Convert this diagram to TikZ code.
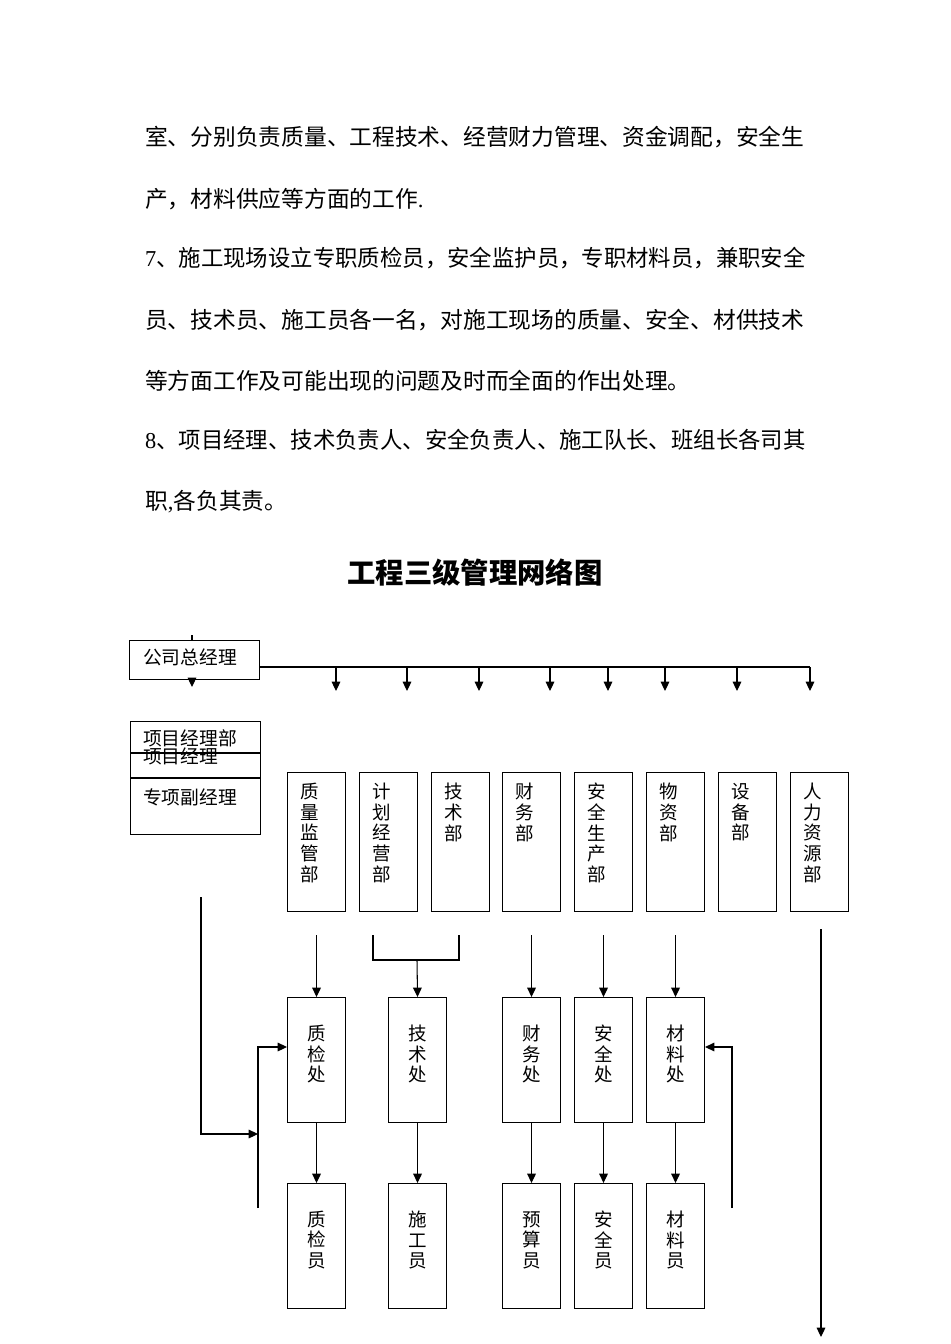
\documentclass[tikz,border=0pt]{standalone}
\usepackage{fontspec}
\usepackage{graphicx}
\setmainfont{Liberation Serif}
\newfontfamily\cjk{Noto Sans CJK SC}
\usetikzlibrary{arrows.meta,positioning}

\tikzset{
	line/.style={line width=0.9pt},
	arr/.style={line,-{Triangle[length=0.28cm,width=0.26cm]}},
	box/.style={draw,line,inner sep=0pt,anchor=north west},
	col/.style={box,minimum width=1.74cm,minimum height=4.17cm},
	sub/.style={box,minimum width=1.74cm,minimum height=3.75cm},
	body/.style={inner sep=0pt,anchor=west,font=\cjk\fontsize{19.4pt}{19.4pt}\selectfont},
	lbl/.style={inner sep=0pt,anchor=west,font=\cjk\fontsize{16pt}{16pt}\selectfont},
	vlbl/.style={inner sep=0pt,align=center,font=\cjk\fontsize{15.8pt}{17.6pt}\selectfont}
}

\begin{document}
\begin{tikzpicture}[x=0.03cm,y=-0.03cm]
	\useasboundingbox (0,0) rectangle (950,1344);
	% text above the chart
	\node[body] (p1) at (145,137) {室、分别负责质量、工程技术、经营财力管理、资金调配，安全生};
	\node[body] (p2) at (145,199) {产，材料供应等方面的工作\textrm{.}};
	\node[body] (p3) at (145,258) {\scalebox{0.985}[1]{\textrm{7}、施工现场设立专职质检员，安全监护员，专职材料员，兼职安全}};
	\node[body] (p4) at (145,320) {员、技术员、施工员各一名，对施工现场的质量、安全、材供技术};
	\node[body] (p5) at (145,381) {等方面工作及可能出现的问题及时而全面的作出处理。};
	\node[body] (p6) at (145,440) {\scalebox{0.985}[1]{\textrm{8}、项目经理、技术负责人、安全负责人、施工队长、班组长各司其}};
	\node[body] (p7) at (145,502) {职\textrm{,}各负其责。};
	\node[inner sep=0pt,font=\cjk\bfseries\fontsize{24.2pt}{24.2pt}\selectfont] (title) at (475,573) {工程三级管理网络图};

	% company and project managers
	\node[box,minimum width=3.9cm,minimum height=1.17cm] (gm) at (129,640) {};
	\node[lbl] (gm-t) at (143,657) {公司总经理};
	\node[box,minimum width=3.9cm,minimum height=3.39cm] (pm) at (130,721) {};
	\draw[line] ([yshift=-0.96cm]pm.north west) -- ([yshift=-0.96cm]pm.north east);
	\draw[line] ([yshift=-1.71cm]pm.north west) -- ([yshift=-1.71cm]pm.north east);
	\node[lbl] (pm-t1) at (143,738) {项目经理部};
	\node[lbl] (pm-t2) at (143,756) {项目经理};
	\node[lbl] (pm-t3) at (143,797) {专项副经理};

	% departments
	\foreach \n/\x/\t in {zlb/287/{质\\量\\监\\管\\部},jhb/359/{计\\划\\经\\营\\部},jsb/431/{技\\术\\部},cwb/502/{财\\务\\部},aqb/574/{安\\全\\生\\产\\部},wzb/646/{物\\资\\部},sbb/718/{设\\备\\部},rlb/790/{人\\力\\资\\源\\部}}{
		\node[col] (\n) at (\x,772) {};
		\node[vlbl,anchor=north] (\n-t) at ([xshift=-0.21cm,yshift=-0.33cm]\n.north) {\t};
	}

	% offices and staff
	\foreach \n/\x/\t in {zjc/287/{质\\检\\处},jsc/388/{技\\术\\处},cwc/502/{财\\务\\处},aqc/574/{安\\全\\处},clc/646/{材\\料\\处}}{
		\node[sub] (\n) at (\x,997) {};
		\node[vlbl] (\n-t) at ([yshift=0.18cm]\n.center) {\t};
	}
	\foreach \n/\x/\t in {zjy/287/{质\\检\\员},sgy/388/{施\\工\\员},ysy/502/{预\\算\\员},aqy/574/{安\\全\\员},cly/646/{材\\料\\员}}{
		\node[sub] (\n) at (\x,1183) {};
		\node[vlbl] (\n-t) at ([yshift=0.18cm]\n.center) {\t};
	}

	% connectors
	\coordinate (bus) at (810,667);
	\draw[line] (192,635) -- (192,640);
	\draw[arr] (192,678) -- (192,687);
	\draw[line] (gm.east |- bus) -- (bus);
	\foreach \x in {336,407,479,550,608,665,737,810}
		\draw[arr] (\x,667) -- (\x,691);

	\foreach \n in {zjc,cwc,aqc,clc}
		\draw[arr] ([yshift=1.86cm]\n.north) -- (\n.north);
	\coordinate (br) at (417,960);
	\draw[line] (373,935) -- (373,960) -- (459,960) -- (459,935);
	\draw[arr] (br) -- (jsc.north);

	\foreach \a/\b in {zjc/zjy,jsc/sgy,cwc/ysy,aqc/aqy,clc/cly}
		\draw[arr] (\a) -- (\b);

	\coordinate (fb) at (201,897);
	\coordinate (qlin) at (258,1047);
	\coordinate (mlin) at (732,1047);
	\draw[arr] (fb) -- (201,1134) -- (258,1134);
	\draw[arr] (258,1208) -- (qlin) -- (qlin -| zjc.west);
	\draw[arr] (732,1208) -- (mlin) -- (mlin -| clc.east);
	\draw[arr] (821,929) -- (821,1337);
\end{tikzpicture}
\end{document}
